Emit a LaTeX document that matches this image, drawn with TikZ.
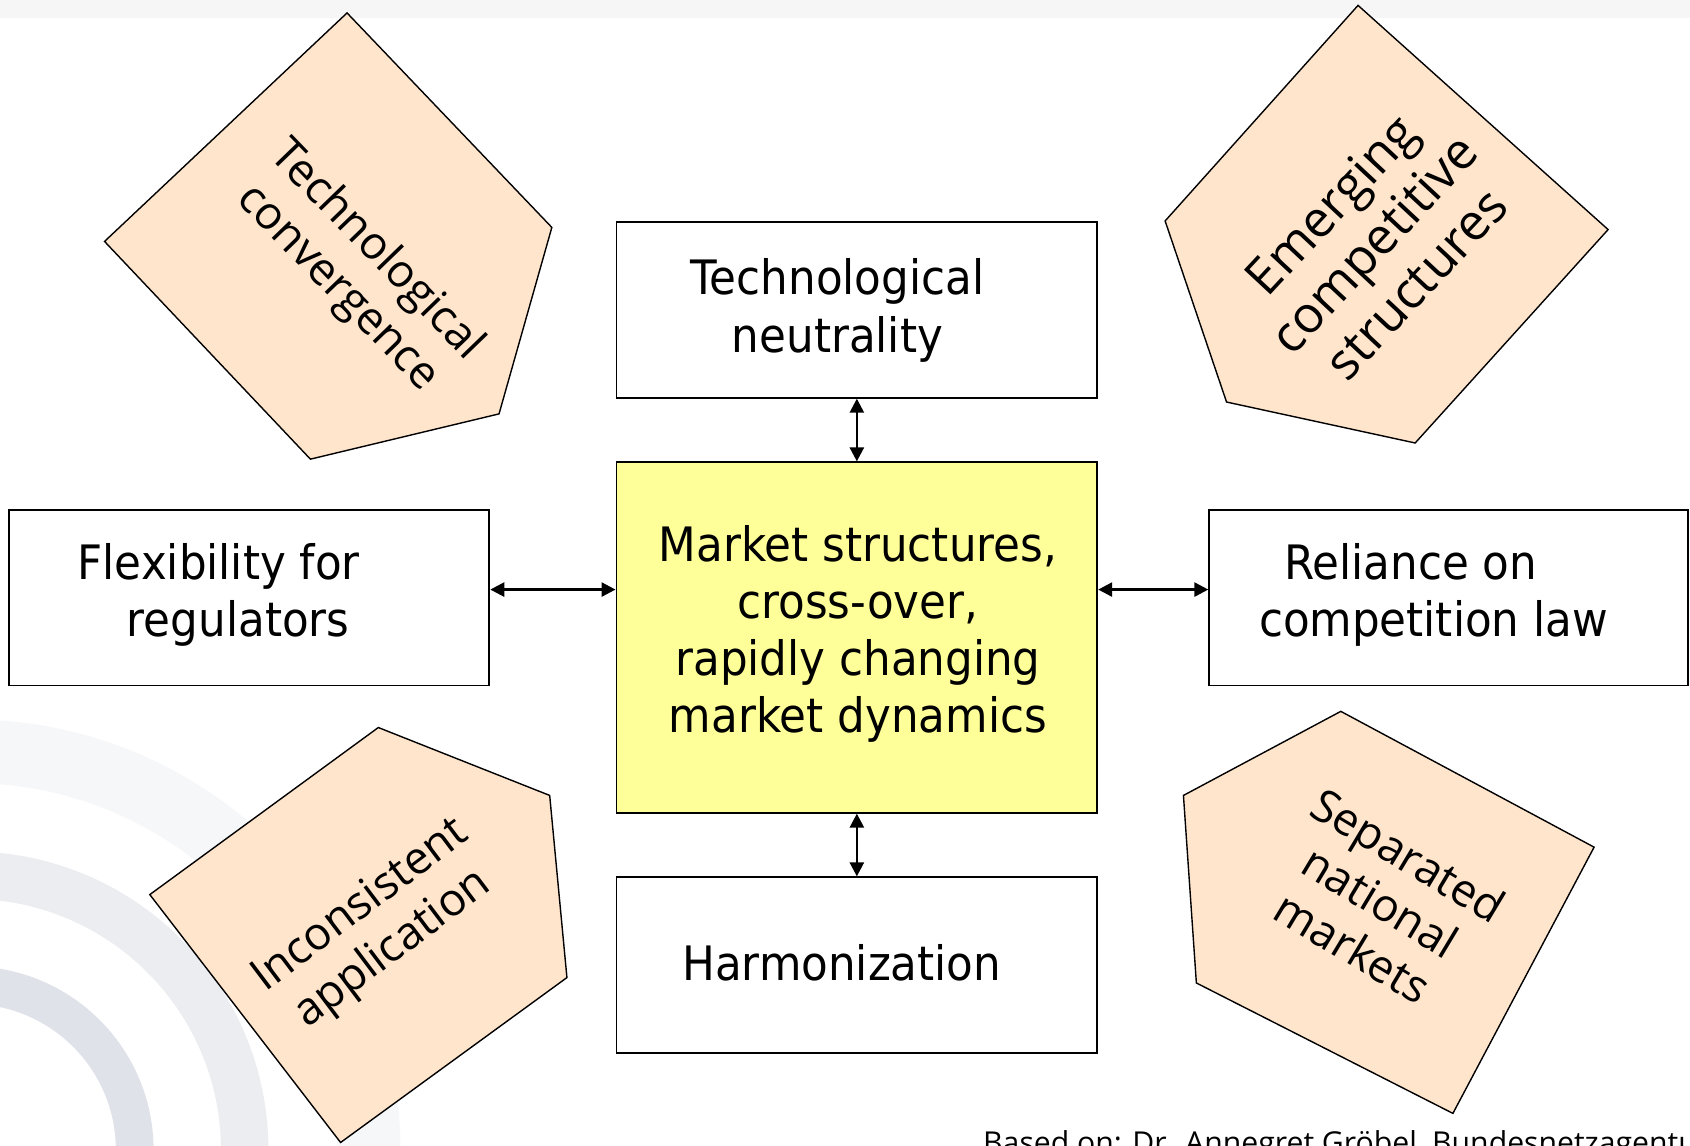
\documentclass[tikz,border=0pt]{standalone}
\usepackage{fontspec}
\newfontfamily\boxfont{DejaVu Sans}[FakeStretch=0.92]
\newfontfamily\pentfont{Open Sans}
\usetikzlibrary{arrows.meta}
\definecolor{peach}{RGB}{255,229,204}
\definecolor{yel}{RGB}{255,255,153}
\definecolor{arcA}{RGB}{223,226,232}
\definecolor{arcB}{RGB}{235,237,241}
\definecolor{arcC}{RGB}{246,247,249}
\definecolor{strip}{RGB}{246,246,246}
\tikzset{
  box/.style={draw, line width=1.8pt, inner sep=0pt},
  boxtext/.style={font=\boxfont\fontsize{44}{53}\selectfont, align=center, inner sep=0pt},
  pent/.style={draw, fill=peach, line width=1.3pt, line join=miter},
  penttext/.style={font=\pentfont\fontsize{42}{50}\selectfont, align=center, inner sep=0pt},
  dbl/.style={{Triangle[length=13pt,width=13pt]}-{Triangle[length=13pt,width=13pt]}, line width=2.4pt},
}
\begin{document}
\begin{tikzpicture}[x=1pt,y=-1pt]
\useasboundingbox (0,0) rectangle (1568,1063);
\clip (0,0) rectangle (1568,1063);
\fill[white] (0,0) rectangle (1568,1063);
\fill[strip] (0,0) rectangle (1568,17);
% watermark arcs
\draw[arcC, line width=59pt] (-28,1067) circle[radius=370pt];
\draw[arcB, line width=44pt] (-28,1067) circle[radius=255pt];
\draw[arcA, line width=35pt] (-28,1067) circle[radius=153pt];

% pentagons
\draw[pent] (322,12) -- (512,211) -- (463,384) -- (288,426) -- (97,224) -- cycle;
\draw[pent] (1260,5) -- (1492,213) -- (1313,411) -- (1138,373) -- (1081,205) -- cycle;
\draw[pent] (351,675) -- (510,738) -- (526,907) -- (316,1060) -- (139,830) -- cycle;
\draw[pent] (1244,660) -- (1479,786) -- (1348,1033) -- (1110,912) -- (1098,738) -- cycle;
\node[penttext, rotate=-46] (tc) at (331,250) {Technological\\convergence};
\node[penttext, rotate=47, font=\pentfont\fontsize{47}{54}\selectfont] (ec) at (1274,226) {Emerging\\competitive\\structures};
\node[penttext, rotate=37] (ia) at (350,861) {Inconsistent\\application};
\node[penttext, rotate=-31] (sn) at (1281,836) {Separated\\national\\markets};

% boxes
\node[box, minimum width=446pt, minimum height=163pt] (tn) at (795,287.5) {};
\node[box, fill=yel, minimum width=446pt, minimum height=325pt] (mk) at (795,591.5) {};
\node[box, minimum width=446pt, minimum height=163pt] (fl) at (231,554.5) {};
\node[box, minimum width=444pt, minimum height=163pt] (rl) at (1344,554.5) {};
\node[box, minimum width=446pt, minimum height=163pt] (hm) at (795,895.5) {};

\node[boxtext] (tnt) at (777,288) {Technological\\neutrality};
\node[boxtext] (mkt) at (796,588) {Market structures,\\cross-over,\\rapidly changing\\market dynamics};
\node[boxtext] (flt) at (203,552) {Flexibility for\\\hspace*{36pt}regulators};
\node[boxtext] (rlt) at (1313,552) {Reliance on\hspace*{8pt}\\\hspace*{34pt}competition law};
\node[boxtext] (hmt) at (781,893) {Harmonization};

% connectors
\coordinate (hy) at (0,547);
\draw[dbl] (tn.south) -- (mk.north);
\draw[dbl] (mk.south) -- (hm.north);
\draw[dbl] (fl.east |- hy) -- (mk.west |- hy);
\draw[dbl] (mk.east |- hy) -- (rl.west |- hy);

% source
\node[font=\pentfont\fontsize{28}{32}\selectfont, anchor=base west, inner sep=0pt] (src) at (912,1070) {Based on: Dr. Annegret Gröbel, Bundesnetzagentur};
\end{tikzpicture}
\end{document}
